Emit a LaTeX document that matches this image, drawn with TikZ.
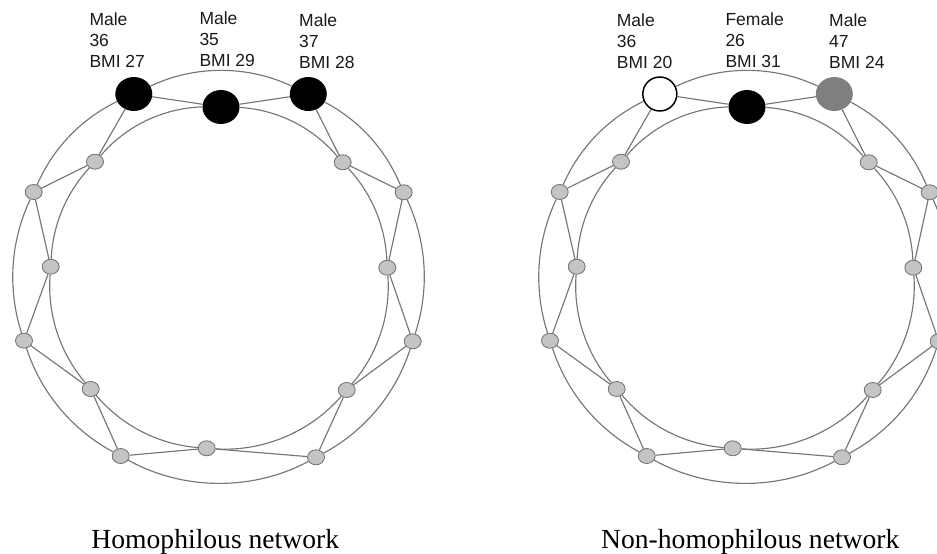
\documentclass[tikz,border=0pt]{standalone}
\usepackage{fontspec}
\setmainfont{Liberation Serif}
\setsansfont{Liberation Sans}
\usetikzlibrary{shapes.geometric}

\definecolor{nodegray}{HTML}{C4C4C4}
\definecolor{rimgray}{HTML}{6E6E6E}
\definecolor{edgegray}{HTML}{767676}
\definecolor{midgray}{HTML}{7F7F7F}
\definecolor{labelblack}{HTML}{1A1A1A}

\pgfdeclarelayer{edges}
\pgfsetlayers{edges,main}

\tikzset{
  member/.style={ellipse, inner sep=0pt, minimum width=17pt, minimum height=15pt,
                 fill=nodegray, draw=rimgray, line width=0.8pt},
  focal/.style={ellipse, inner sep=0pt, minimum width=37pt, minimum height=34pt},
  darkfocal/.style={focal, fill=black},
  lightfocal/.style={focal, fill=white, draw=black, line width=1.5pt,
                     minimum width=34pt, minimum height=34pt},
  greyfocal/.style={focal, fill=midgray},
  tie/.style={draw=edgegray, line width=1.15pt},
  arc/.style={tie, looseness=0.89},
  % the anchor sits on the baseline of the last line
  profile/.style={font=\sffamily\fontsize{17.5}{21}\selectfont, align=left,
                  anchor=base west, inner sep=0pt, text=labelblack},
  caption/.style={font=\fontsize{27.6}{30}\selectfont, anchor=base, inner sep=0pt}
}

% Ring lattice of 16 people: outer ring o1..o8, inner ring i1..i8.
% #1 name prefix, #2 horizontal offset, #3 #4 #5 styles of the three top members.
\newcommand\ringnet[5]{%
  \begin{scope}[xshift=#2]
    \node[#3]     (#1o1) at (133.8,-94)   {};
    \node[#4]     (#1i1) at (221,-107)    {};
    \node[#5]     (#1o2) at (308.3,-94)   {};
    \node[member] (#1i2) at (342.7,-162.3) {};
    \node[member] (#1o3) at (403.7,-192.3) {};
    \node[member] (#1i3) at (387.3,-267.7) {};
    \node[member] (#1o4) at (412.7,-341.3) {};
    \node[member] (#1i4) at (346.7,-390)   {};
    \node[member] (#1o5) at (316,-457.3)   {};
    \node[member] (#1i5) at (206.7,-448.3) {};
    \node[member] (#1o6) at (120.7,-456)   {};
    \node[member] (#1i6) at (90.7,-389)    {};
    \node[member] (#1o7) at (24,-340.7)    {};
    \node[member] (#1i7) at (50.7,-266.7)  {};
    \node[member] (#1o8) at (33.7,-192)    {};
    \node[member] (#1i8) at (95,-161.7)    {};
  \end{scope}
  \begin{pgfonlayer}{edges}
    % nearest neighbours: zigzag between the rings
    \foreach \a/\b in {o1/i1, i1/o2, o2/i2, i2/o3, o3/i3, i3/o4, o4/i4, i4/o5,
                       o5/i5, i5/o6, o6/i6, i6/o7, o7/i7, i7/o8, o8/i8, i8/o1}
      \draw[tie] (#1\a) -- (#1\b);
    % second neighbours: arcs along each ring
    \foreach \a/\b/\c in {o1/o2/25.4, o2/o3/19.6, o3/o4/21.5, o4/o5/21.8,
                          o5/o6/28.7, o6/o7/21.7, o7/o8/21.5, o8/o1/20.2,
                          i1/i2/23.1, i2/i3/19.8, i3/i4/22.4, i4/i5/26.4,
                          i5/i6/22.5, i6/i7/22.4, i7/i8/19.7, i8/i1/23.8}
      \draw[arc] (#1\a) to[bend left=\c] (#1\b);
  \end{pgfonlayer}
}

\begin{document}
\begin{tikzpicture}[x=1pt, y=1pt]
  \useasboundingbox (0,0) rectangle (937,-554);
  \clip (0,0) rectangle (937,-554);

  % homophilous network
  \ringnet{h}{0pt}{darkfocal}{darkfocal}{darkfocal}
  \node[profile] (hp1) at (89.3,-67.7) {Male\\36\\BMI 27};
  \node[profile] (hp2) at (199.3,-66.7) {Male\\35\\BMI 29};
  \node[profile] (hp3) at (299,-68.9)  {Male\\37\\BMI 28};
  \node[caption] (hcap) at (215.3,-548) {Homophilous network};

  % non-homophilous network
  \ringnet{n}{526pt}{lightfocal}{darkfocal}{greyfocal}
  \node[profile] (np1) at (616.7,-68) {Male\\36\\BMI 20};
  \node[profile] (np2) at (725.3,-67) {Female\\26\\BMI 31};
  \node[profile] (np3) at (829,-68.7) {Male\\47\\BMI 24};
  \node[caption] (ncap) at (750.3,-548) {Non-homophilous network};
\end{tikzpicture}
\end{document}
